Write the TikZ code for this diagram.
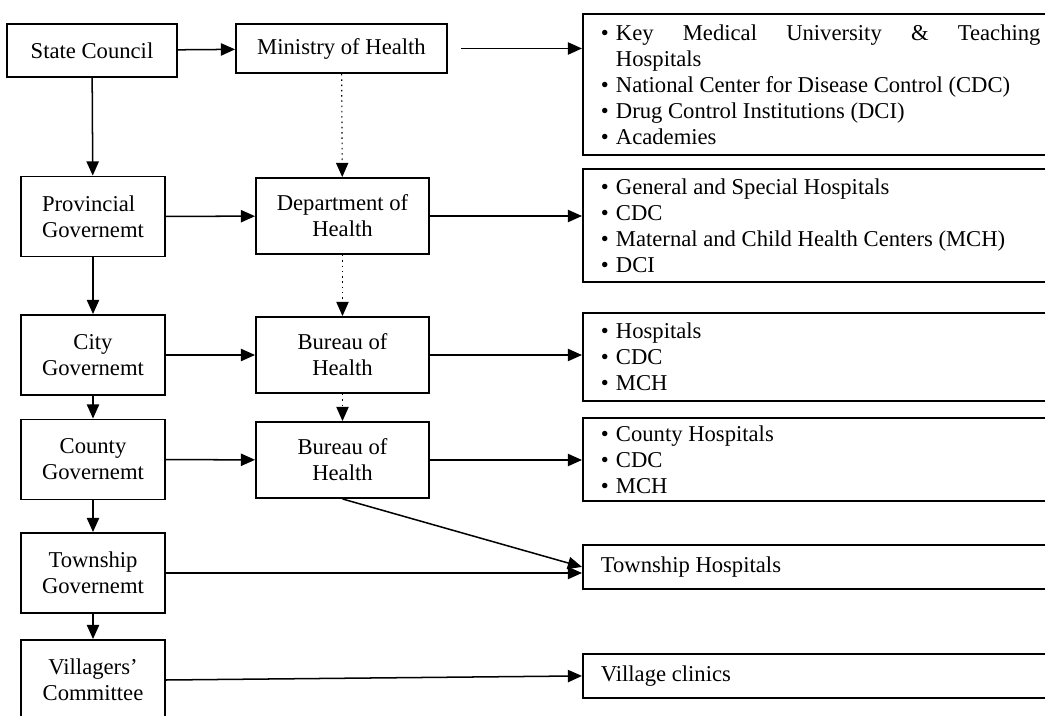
\documentclass[tikz,border=0pt]{standalone}
\usepackage{fontspec}
\setmainfont{Liberation Serif}
\usepackage{tikz}
\usetikzlibrary{arrows.meta,calc,positioning}
\newcommand{\itm}{\makebox[8pt][l]{\textbullet}}

\begin{document}
\begin{tikzpicture}[x=0.53pt,y=-0.53pt, every node/.style={font=\fontsize{12}{13.8}\selectfont,align=center},
  gov/.style={draw,line width=1pt,minimum width=76.3pt,minimum height=42.4pt,inner sep=2pt},
  hlth/.style={draw,line width=1pt,minimum width=91.7pt,minimum height=40.3pt,inner sep=2pt},
  lst/.style={draw,line width=1pt,anchor=north west,text width=233pt,inner xsep=9.5pt,inner ysep=0pt,align=flush left},
  a/.style={-{Triangle[length=7.5pt,width=6.5pt]},line width=0.8pt},
  ad/.style={a,dotted,line width=0.6pt}]
  \useasboundingbox (0,0) rectangle (1045,716);
  % government column
  \node[gov,minimum width=90pt,minimum height=28pt] (sc) at (92,50.5) {State Council};
  \node[gov,align=left] (pg) at (93,216.5) {Provincial\\Governemt};
  \node[gov] (cg) at (93,355) {City\\Governemt};
  \node[gov] (cog) at (93,459.5) {County\\Governemt};
  \node[gov] (tg) at (93,573) {Township\\Governemt};
  \node[gov] (vc) at (93,680) {Villagers’\\Committee};
  % health column
  \node[hlth,minimum width=111.8pt,minimum height=26pt] (moh) at (341.5,48.5) {Ministry of Health};
  \node[hlth] (doh) at (342.5,216) {Department of\\Health};
  \node[hlth] (boh) at (342.5,355) {Bureau of\\Health};
  \node[hlth] (cboh) at (342.5,460) {Bureau of\\Health};
  % institutions
  \node[lst,minimum height=74.7pt] (r1) at (582,13) {\itm Key\hfill Medical\hfill University\hfill\&\hfill Teaching\\\hspace*{8pt}Hospitals\\\itm National Center for Disease Control (CDC)\\\itm Drug Control Institutions (DCI)\\\itm Academies};
  \node[lst,minimum height=60pt] (r2) at (582,168) {\itm General and Special Hospitals\\\itm CDC\\\itm Maternal and Child Health Centers (MCH)\\\itm DCI};
  \node[lst,minimum height=46.6pt] (r3) at (582,312) {\itm Hospitals\\\itm CDC\\\itm MCH};
  \node[lst,minimum height=44pt] (r4) at (582,417) {\itm County Hospitals\\\itm CDC\\\itm MCH};
  \node[lst,minimum height=23.3pt] (th) at (582,544) {Township Hospitals};
  \node[lst,minimum height=23.3pt] (cl) at (582,653) {Village clinics};
  % connectors
  \draw[a] (sc) -- (moh);
  \draw[a,shorten <=7pt] (moh.east) -- (moh.east -| r1.west);
  \draw[a] (sc) -- (pg);
  \draw[ad] (moh) -- (doh);
  \draw[a] (pg) -- (doh);
  \draw[a] (doh.east) -- (doh.east -| r2.west);
  \draw[a] (pg) -- (cg);
  \draw[ad] (doh) -- (boh);
  \draw[a] (cg) -- (boh);
  \draw[a] (boh.east) -- (boh.east -| r3.west);
  \draw[a] (cg) -- (cog);
  \draw[ad] (boh) -- (cboh);
  \draw[a] (cog) -- (cboh);
  \draw[a] (cboh.east) -- (cboh.east -| r4.west);
  \draw[a] (cboh.south) -- (th.west);
  \draw[a] (cog) -- (tg);
  \draw[a] (tg.east) -- (tg.east -| th.west);
  \draw[a] (tg) -- (vc);
  \draw[a] (vc.east) -- (cl.west);
\end{tikzpicture}
\end{document}
